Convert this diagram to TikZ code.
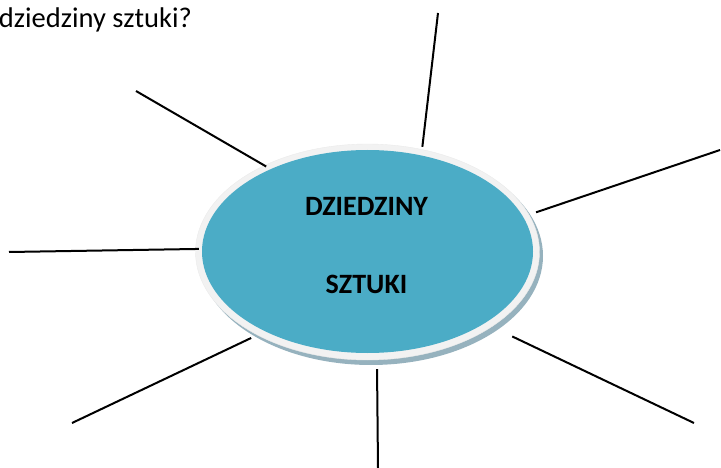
\documentclass[tikz,border=0pt]{standalone}
\usepackage{fontspec}
\setmainfont{Carlito}
\usepackage{tikz}
\usetikzlibrary{shapes}
\definecolor{discblue}{RGB}{75,172,198}
\definecolor{rimgray}{RGB}{242,242,242}
\definecolor{shadowblue}{RGB}{150,178,190}

\begin{document}
\begin{tikzpicture}[x=1pt,y=-1pt,
		spoke/.style={line width=2pt},
		word/.style={font=\fontsize{28}{30}\selectfont\bfseries, anchor=base}]
		\def\sheet{(0,0) rectangle (721,468)}
		\useasboundingbox \sheet;
		\clip \sheet;
		\node[anchor=base east, inner sep=0pt, font=\fontsize{28.5}{30}\selectfont] (question) at (192,28) {dziedziny sztuki?};
		\fill[shadowblue] (371,256) ellipse [x radius=172, y radius=109];
		\node[ellipse, fill=rimgray, draw=black!8, minimum width=344pt, minimum height=216pt, inner sep=0pt] (disc) at (367.5,252) {};
		\fill[discblue] (367.5,251.5) ellipse [x radius=165.5, y radius=101.5];
		\node[word] (first) at (366.5,215) {DZIEDZINY};
		\node[word] (second) at (366.5,294) {SZTUKI};
		% free ends of the spokes
		\coordinate (n) at (438,13);
		\coordinate (ne) at (720,150);
		\coordinate (se) at (694,423);
		\coordinate (s) at (378,468);
		\coordinate (sw) at (72,423);
		\coordinate (w) at (9,252);
		\coordinate (nw) at (136,91);
		\draw[spoke, shorten <=2.6pt] (disc.62.6) -- (n);
		\draw[spoke, shorten <=7.3pt] (disc.13) -- (ne);
		\draw[spoke, shorten <=22.5pt] (disc.-31.4) -- (se);
		\draw[spoke, shorten <=9.1pt] (disc.-85.8) -- (s);
		\draw[spoke, shorten <=6.7pt] (disc.-143) -- (sw);
		\draw[spoke, shorten <=-3.5pt] (disc.179) -- (w);
		\draw[spoke, shorten <=-2.2pt] (disc.140.9) -- (nw);
	\end{tikzpicture}
\end{document}
